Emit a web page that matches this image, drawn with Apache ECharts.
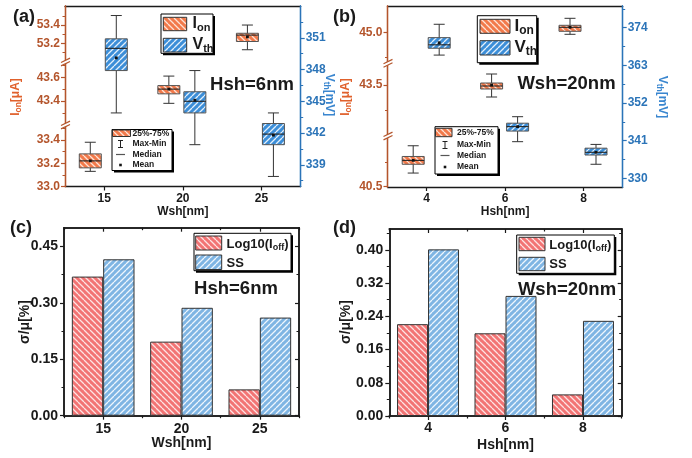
<!DOCTYPE html>
<html>
<head>
<meta charset="utf-8">
<title>Ion / Vth / sigma-mu vs. sheet geometry</title>
<script src="https://cdn.jsdelivr.net/npm/echarts@6.0.0/dist/echarts.min.js"></script>
<style>
  html, body { margin: 0; padding: 0; background: #fff; }
  #chart { width: 692px; height: 458px; }
</style>
</head>
<body>
<div id="chart"></div>
<script>
// ===================== data =====================
const wshNm = [15, 20, 25];          // sheet width sweep (Hsh = 6 nm)
const hshNm = [4, 6, 8];             // sheet height sweep (Wsh = 20 nm)

// box statistics: [min, Q1, median, Q3, max, mean]
const ionVsWsh = [
  [33.13, 33.16, 33.22, 33.28, 33.38, 33.22],
  [43.38, 43.46, 43.50, 43.53, 43.61, 43.50],
  [53.13, 53.22, 53.29, 53.31, 53.40, 53.27]
];
const vthVsWsh = [
  [343.9, 347.9, 350.0, 350.9, 353.1, 349.1],
  [340.9, 343.9, 345.0, 345.9, 347.9, 345.1],
  [337.9, 340.9, 341.9, 342.9, 343.9, 341.8]
];
const ionVsHsh = [
  [40.64, 40.73, 40.77, 40.81, 40.92, 40.77],
  [43.38, 43.46, 43.49, 43.52, 43.61, 43.50],
  [44.98, 45.01, 45.05, 45.07, 45.14, 45.05]
];
const vthVsHsh = [
  [366.0, 368.0, 369.0, 371.1, 375.0, 369.6],
  [340.7, 343.8, 345.1, 346.1, 348.0, 345.1],
  [334.1, 336.8, 337.6, 338.8, 339.9, 337.6]
];

// relative spread sigma/mu [%]
const ioffSpreadWsh = [0.370, 0.197, 0.070];
const ssSpreadWsh   = [0.416, 0.287, 0.261];
const ioffSpreadHsh = [0.221, 0.199, 0.052];
const ssSpreadHsh   = [0.401, 0.289, 0.229];

// axis ranges and ticks (broken Ion axes: bottom, middle, top segment)
const wshRange = [12.5, 27.5];
const hshRange = [3, 9];
const ionRangeWsh = [[33.0, 33.528], [43.197, 43.729], [52.996, 53.608]];
const ionTicksWsh = [[33.0, 33.2, 33.4], [43.4, 43.6], [53.2, 53.4]];
const ionMinorWsh = [[33.1, 33.3, 33.5], [43.3, 43.5, 43.7], [53.1, 53.3, 53.5]];
const vthRangeWsh = [336.95, 354];
const vthTicksWsh = [339, 342, 345, 348, 351];
const vthMinorWsh = [337.5, 340.5, 343.5, 346.5, 349.5, 352.5];

const ionRangeHsh = [[40.497, 41.02], [42.99, 43.717], [44.69, 45.263]];
const ionTicksHsh = [[40.5], [43.5], [45.0]];
const ionMinorHsh = [[40.75], [43.25], [44.75]];
const vthRangeHsh = [327.46, 380.34];
const vthTicksHsh = [330, 341, 352, 363, 374];
const vthMinorHsh = [335.5, 346.5, 357.5, 368.5, 379.5];

const spreadMaxWsh = 0.5;
const spreadTicksWsh = [0, 0.15, 0.30, 0.45];
const spreadMinorWsh = [0.075, 0.225, 0.375];
const spreadMaxHsh = 0.45;
const spreadTicksHsh = [0, 0.08, 0.16, 0.24, 0.32, 0.40];
const spreadMinorHsh = [0.04, 0.12, 0.20, 0.28, 0.36, 0.44];

// ===================== styling =====================
const FONT = '"Liberation Sans", Arial, Helvetica, sans-serif';
const ION_AXIS = '#b4552c';
const ION_NAME = '#e0612c';
const VTH_AXIS = '#2b74b8';
const VTH_NAME = '#3a86cf';
const INK = '#1a1a1a';

function stripes(base, stripe, dir) {
  const n = 6;
  const c = document.createElement('canvas');
  c.width = c.height = n;
  const g = c.getContext('2d');
  g.fillStyle = base;
  g.fillRect(0, 0, n, n);
  g.strokeStyle = stripe;
  g.lineWidth = 1.3;
  g.beginPath();
  for (let k = -1; k <= 1; k++) {
    if (dir === '/') { g.moveTo(k * n, n); g.lineTo(k * n + n, 0); }
    else { g.moveTo(k * n, 0); g.lineTo(k * n + n, n); }
  }
  g.stroke();
  return { image: c, repeat: 'repeat' };
}
const ionFill  = stripes('#f27a4b', '#fde3d6', '\\');
const vthFill  = stripes('#3c8ed8', '#e4f0fb', '/');
const ioffFill = stripes('#f27474', '#fde3e3', '\\');
const ssFill   = stripes('#7fb5e3', '#eef6fd', '/');

// ===================== builders =====================
const grids = [], xAxes = [], yAxes = [], series = [], gfx = [];
const addGrid = g => (grids.push(Object.assign({ outerBoundsMode: 'none', containLabel: false }, g)), grids.length - 1);
const addX = a => (xAxes.push(a), xAxes.length - 1);
const addY = a => (yAxes.push(a), yAxes.length - 1);

function tickAxes(kind, o) {
  // returns [major axis, minor axis] sharing the same scale
  const line = { show: o.line !== false, onZero: false, lineStyle: { color: o.color, width: o.lw || 1.3 } };
  const common = { type: 'value', gridIndex: o.grid, position: o.pos, min: o.min, max: o.max,
    splitLine: { show: false }, axisLine: line, z: 5 };
  const major = Object.assign({}, common, {
    axisTick: { show: true, customValues: o.major, inside: !!o.inside, length: 4,
      lineStyle: { color: o.color, width: 1.2 } },
    axisLabel: o.fmt ? { show: true, customValues: o.major, formatter: o.fmt, color: o.labelColor || o.color,
      fontSize: o.fs || 12, fontWeight: 'bold', fontFamily: FONT, margin: o.margin || 5 } : { show: false }
  }, o.extra || {});
  const minor = Object.assign({}, common, {
    axisTick: { show: (o.minor || []).length > 0, customValues: o.minor || [], inside: !!o.inside, length: 2.5,
      lineStyle: { color: o.color, width: 1 } },
    axisLabel: { show: false }
  });
  return kind === 'x' ? [addX(major), addX(minor)] : [addY(major), addY(minor)];
}

function boxItem(fill, dx) {
  return function (params, api) {
    const x = api.value(0);
    const px = api.coord([x, api.value(1)])[0] + dx;
    const y = i => api.coord([x, api.value(i)])[1];
    const yMin = y(1), yQ1 = y(2), yMed = y(3), yQ3 = y(4), yMax = y(5), yMean = y(6);
    const hw = 11, cap = 5.5;
    const seg = (x1, y1, x2, y2, c, w) => ({ type: 'line', shape: { x1, y1, x2, y2 }, style: { stroke: c, lineWidth: w || 1 } });
    return { type: 'group', children: [
      seg(px, yMax, px, yMin, '#333'),
      seg(px - cap, yMax, px + cap, yMax, '#333'),
      seg(px - cap, yMin, px + cap, yMin, '#333'),
      { type: 'rect', shape: { x: px - hw, y: yQ3, width: 2 * hw, height: yQ1 - yQ3 },
        style: { fill, stroke: '#555', lineWidth: 1 } },
      seg(px - hw, yMed, px + hw, yMed, '#222', 1.1),
      { type: 'rect', shape: { x: px - 1.4, y: yMean - 1.4, width: 2.8, height: 2.8 }, style: { fill: '#111' } }
    ] };
  };
}

function txt(x, y, text, o) {
  gfx.push({ type: 'text', x, y, z: 120, rotation: (o && o.rot) || 0,
    style: Object.assign({ text, fill: INK, fontFamily: FONT, fontWeight: 'bold', fontSize: 12,
      align: 'left', verticalAlign: 'middle' }, o && o.style) });
}
function subRich(fm, fs, color) {
  const L = 0.5 * fm + fs;
  return {
    m: { fontSize: fm, fontWeight: 'bold', fontFamily: FONT, fill: color, lineHeight: L },
    s: { fontSize: fs, fontWeight: 'bold', fontFamily: FONT, fill: color, lineHeight: fs, verticalAlign: 'bottom' }
  };
}
function frame(x0, y0, x1, y1) {
  gfx.push({ type: 'rect', z: 110, shape: { x: x0 + 2, y: y0 + 2, width: x1 - x0, height: y1 - y0 }, style: { fill: '#000' } });
  gfx.push({ type: 'rect', z: 111, shape: { x: x0, y: y0, width: x1 - x0, height: y1 - y0 },
    style: { fill: '#fff', stroke: '#000', lineWidth: 1 } });
}
function swatch(x0, y0, x1, y1, fill) {
  gfx.push({ type: 'rect', z: 112, shape: { x: x0, y: y0, width: x1 - x0, height: y1 - y0 },
    style: { fill, stroke: '#333', lineWidth: 1 } });
}
function gline(x1, y1, x2, y2, c, w) {
  gfx.push({ type: 'line', z: 113, shape: { x1, y1, x2, y2 }, style: { stroke: c, lineWidth: w || 1 } });
}
function breakMark(x, y, color) {
  const w = 4.5, s = 2.2, d = 1.7;
  gfx.push({ type: 'polygon', z: 100, shape: { points: [[x - w, y - d + s], [x + w, y - d - s], [x + w, y + d - s], [x - w, y + d + s]] },
    style: { fill: '#fff' } });
  gline(x - w, y - d + s, x + w, y - d - s, color, 1.2);
  gline(x - w, y + d + s, x + w, y + d - s, color, 1.2);
}

// ----- box-plot panel with a three-segment Ion axis and a Vth axis -----
function boxPanel(P, xs, xRange, xName, ionRange, ionTicks, ionMinor, ionFmt, ionStats,
                  vthRange, vthTicks, vthMinor, vthStats, ionDx, vthDx) {
  const tops = [P.cuts[0], P.cuts[1], P.top];
  const bottoms = [P.bottom, P.cuts[0], P.cuts[1]];
  for (let s = 0; s < 3; s++) {
    const gi = addGrid({ left: P.left, width: P.right - P.left, top: tops[s], height: bottoms[s] - tops[s] });
    let xi;
    if (s === 0) {
      xi = addX({ type: 'value', gridIndex: gi, position: 'bottom', min: xRange[0], max: xRange[1],
        splitLine: { show: false },
        axisLine: { onZero: false, lineStyle: { color: INK, width: 1.3 } },
        axisTick: { customValues: xs, length: 4, lineStyle: { color: INK, width: 1.2 } },
        axisLabel: { customValues: xs, color: INK, fontSize: 12, fontWeight: 'bold', fontFamily: FONT, margin: 6 },
        name: xName, nameLocation: 'middle', nameGap: 18,
        nameTextStyle: { color: INK, fontSize: 12, fontWeight: 'bold', fontFamily: FONT } });
    } else {
      xi = addX({ type: 'value', gridIndex: gi, min: xRange[0], max: xRange[1], show: false });
    }
    const [yi] = tickAxes('y', { grid: gi, pos: 'left', min: ionRange[s][0], max: ionRange[s][1],
      major: ionTicks[s], minor: ionMinor[s], color: ION_AXIS, fmt: ionFmt, margin: 5 });
    series.push({ type: 'custom', name: 'Ion', xAxisIndex: xi, yAxisIndex: yi, z: 3,
      data: [[xs[s]].concat(ionStats[s])], renderItem: boxItem(ionFill, ionDx) });
  }
  const gv = addGrid({ left: P.left, width: P.right - P.left, top: P.top, height: P.bottom - P.top });
  const xv = addX({ type: 'value', gridIndex: gv, position: 'top', min: xRange[0], max: xRange[1],
    splitLine: { show: false }, axisLine: { onZero: false, lineStyle: { color: INK, width: 1.3 } },
    axisTick: { show: false }, axisLabel: { show: false } });
  const [yv] = tickAxes('y', { grid: gv, pos: 'right', min: vthRange[0], max: vthRange[1],
    major: vthTicks, minor: vthMinor, color: VTH_AXIS, fmt: v => String(v), margin: 5 });
  series.push({ type: 'custom', name: 'Vth', xAxisIndex: xv, yAxisIndex: yv, z: 3,
    data: xs.map((x, i) => [x].concat(vthStats[i])), renderItem: boxItem(vthFill, vthDx) });
  breakMark(P.left + 0.5, P.cuts[0], ION_AXIS);
  breakMark(P.left + 0.5, P.cuts[1], ION_AXIS);
}

// ----- grouped bar panel -----
function barPanel(P, cats, xName, yMax, yTicks, yMinor, ioff, ss, fs, margin, nameGap) {
  const gi = addGrid({ left: P.left, width: P.right - P.left, top: P.top, height: P.bottom - P.top });
  const catAxis = (pos, align, inside, len, label) => ({
    type: 'category', gridIndex: gi, data: cats, position: pos, boundaryGap: true,
    axisLine: { onZero: false, lineStyle: { color: INK, width: 1.5 } },
    axisTick: { show: true, alignWithLabel: align, inside, length: len, lineStyle: { color: INK, width: 1.2 } },
    axisLabel: label ? { color: INK, fontSize: fs, fontWeight: 'bold', fontFamily: FONT, margin } : { show: false },
    name: label ? xName : '', nameLocation: 'middle', nameGap,
    nameTextStyle: { color: INK, fontSize: fs, fontWeight: 'bold', fontFamily: FONT }
  });
  const xb = addX(catAxis('bottom', true, false, 4, true));
  addX(catAxis('bottom', false, false, 2.5, false));
  addX(catAxis('top', true, true, 4, false));
  addX(catAxis('top', false, true, 2.5, false));
  const [yl] = tickAxes('y', { grid: gi, pos: 'left', min: 0, max: yMax, major: yTicks, minor: yMinor,
    color: INK, lw: 1.5, fmt: v => v.toFixed(2), fs, margin: 6 });
  tickAxes('y', { grid: gi, pos: 'right', min: 0, max: yMax, major: yTicks, minor: yMinor,
    color: INK, lw: 1.5, inside: true });
  const bar = (name, data, fill) => ({
    type: 'bar', name, xAxisIndex: xb, yAxisIndex: yl, data, barWidth: '40%', barGap: '0%', z: 3,
    itemStyle: { color: fill, borderColor: '#333', borderWidth: 1 }
  });
  series.push(bar('Log10(Ioff)', ioff, ioffFill), bar('SS', ss, ssFill));
}

// ===================== panels =====================
const PA = { left: 65, right: 300.7, top: 6, bottom: 186.5, cuts: [125, 62] };
const PB = { left: 387.5, right: 622.7, top: 6, bottom: 187, cuts: [136, 63.3] };
const PC = { left: 64, right: 299, top: 227.7, bottom: 415.7 };
const PD = { left: 389.3, right: 621.7, top: 229, bottom: 416 };

boxPanel(PA, wshNm, wshRange, 'Wsh[nm]', ionRangeWsh, ionTicksWsh, ionMinorWsh, v => v.toFixed(1), ionVsWsh,
  vthRangeWsh, vthTicksWsh, vthMinorWsh, vthVsWsh, -14, 12);
boxPanel(PB, hshNm, hshRange, 'Hsh[nm]', ionRangeHsh, ionTicksHsh, ionMinorHsh, v => v.toFixed(1), ionVsHsh,
  vthRangeHsh, vthTicksHsh, vthMinorHsh, vthVsHsh, -13.5, 12.5);
barPanel(PC, wshNm.map(String), 'Wsh[nm]', spreadMaxWsh, spreadTicksWsh, spreadMinorWsh,
  ioffSpreadWsh, ssSpreadWsh, 14, 6, 20);
barPanel(PD, hshNm.map(String), 'Hsh[nm]', spreadMaxHsh, spreadTicksHsh, spreadMinorHsh,
  ioffSpreadHsh, ssSpreadHsh, 14, 5, 22);

// ===================== annotations =====================
// panel tags
txt(13, 17.5, '(a)', { style: { fontSize: 18 } });
txt(333, 17.5, '(b)', { style: { fontSize: 18 } });
txt(10, 228, '(c)', { style: { fontSize: 18 } });
txt(333, 228, '(d)', { style: { fontSize: 18 } });

// condition labels
txt(252, 85, 'Hsh=6nm', { style: { fontSize: 18.5, align: 'center' } });
txt(566.5, 84, 'Wsh=20nm', { style: { fontSize: 18.5, align: 'center' } });
txt(236, 289, 'Hsh=6nm', { style: { fontSize: 18.5, align: 'center' } });
txt(567, 290, 'Wsh=20nm', { style: { fontSize: 18.5, align: 'center' } });

// axis titles
const ionTitle = (x, y) => txt(x, y, '{m|I}{s|on}{m|[μA]}',
  { rot: Math.PI / 2, style: { align: 'center', rich: subRich(12, 8.5, ION_NAME) } });
const vthTitle = (x, y) => txt(x, y, '{m|V}{s|th}{m|[mV]}',
  { rot: -Math.PI / 2, style: { align: 'center', rich: subRich(12, 8.5, VTH_NAME) } });
ionTitle(16, 97);
vthTitle(329, 95);
ionTitle(346, 97);
vthTitle(662, 97);
txt(25, 322, 'σ/μ[%]', { rot: Math.PI / 2, style: { align: 'center', fontSize: 14 } });
txt(346, 322, 'σ/μ[%]', { rot: Math.PI / 2, style: { align: 'center', fontSize: 14 } });

// Ion / Vth keys
function seriesKey(f, sw1, sw2, tx, ty1, ty2, fm, fs) {
  frame(f[0], f[1], f[2], f[3]);
  swatch(sw1[0], sw1[1], sw1[2], sw1[3], ionFill);
  swatch(sw2[0], sw2[1], sw2[2], sw2[3], vthFill);
  txt(tx, ty1, '{m|I}{s|on}', { style: { rich: subRich(fm, fs, INK) } });
  txt(tx, ty2, '{m|V}{s|th}', { style: { rich: subRich(fm, fs, INK) } });
}
seriesKey([161, 14, 213, 53.3], [163.3, 17.3, 186.7, 30.7], [163.3, 38.3, 186.7, 52], 192.5, 24, 45, 16, 11);
seriesKey([477.3, 15.7, 536.7, 62.7], [480, 19.3, 510, 33.3], [480, 40.7, 510, 55], 514.5, 26.5, 47.5, 17, 12);

// box-plot element keys
function statKey(f, sw, cx, tx, rows) {
  frame(f[0], f[1], f[2], f[3]);
  swatch(sw[0], sw[1], sw[2], sw[3], ionFill);
  const t = (y, s) => txt(tx, y, s, { style: { fontSize: 8.5 } });
  t(rows[0], '25%-75%');
  gline(cx, rows[1] - 3.5, cx, rows[1] + 3.5, '#222', 1);
  gline(cx - 2.5, rows[1] - 3.5, cx + 2.5, rows[1] - 3.5, '#222', 1);
  gline(cx - 2.5, rows[1] + 3.5, cx + 2.5, rows[1] + 3.5, '#222', 1);
  t(rows[1], 'Max-Min');
  gline(cx - 4.5, rows[2], cx + 4.5, rows[2], '#555', 1.2);
  t(rows[2], 'Median');
  gfx.push({ type: 'rect', z: 113, shape: { x: cx - 1.3, y: rows[3] - 1.3, width: 2.6, height: 2.6 }, style: { fill: '#111' } });
  t(rows[3], 'Mean');
}
statKey([112, 129.5, 172, 170.5], [112.5, 130, 130.5, 136.5], 120.5, 132.5, [133.5, 144, 154.5, 165]);
statKey([435, 126.7, 498, 174], [435.5, 128.3, 452, 136.7], 445, 457, [133, 145, 155.5, 167]);

// bar keys
function barKey(f, sw1, sw2, tx, ty1, ty2) {
  frame(f[0], f[1], f[2], f[3]);
  swatch(sw1[0], sw1[1], sw1[2], sw1[3], ioffFill);
  swatch(sw2[0], sw2[1], sw2[2], sw2[3], ssFill);
  txt(tx, ty1, '{m|Log10(I}{s|off}{m|)}', { style: { rich: subRich(13, 9, INK) } });
  txt(tx, ty2, 'SS', { style: { fontSize: 13 } });
}
barKey([194, 233.3, 291, 270.7], [195.7, 236, 221.7, 250], [195.7, 255, 221.7, 269.5], 226.5, 244, 263);
barKey([516.7, 235, 614.3, 273.3], [519, 237.3, 545, 250.7], [519, 257.3, 545, 270.7], 549.3, 245, 264.3);

// ===================== render =====================
const chart = echarts.init(document.getElementById('chart'), null, { renderer: 'canvas' });
chart.setOption({
  animation: false,
  backgroundColor: '#fff',
  textStyle: { fontFamily: FONT },
  grid: grids,
  xAxis: xAxes,
  yAxis: yAxes,
  series,
  graphic: { elements: gfx }
});
</script>
</body>
</html>
